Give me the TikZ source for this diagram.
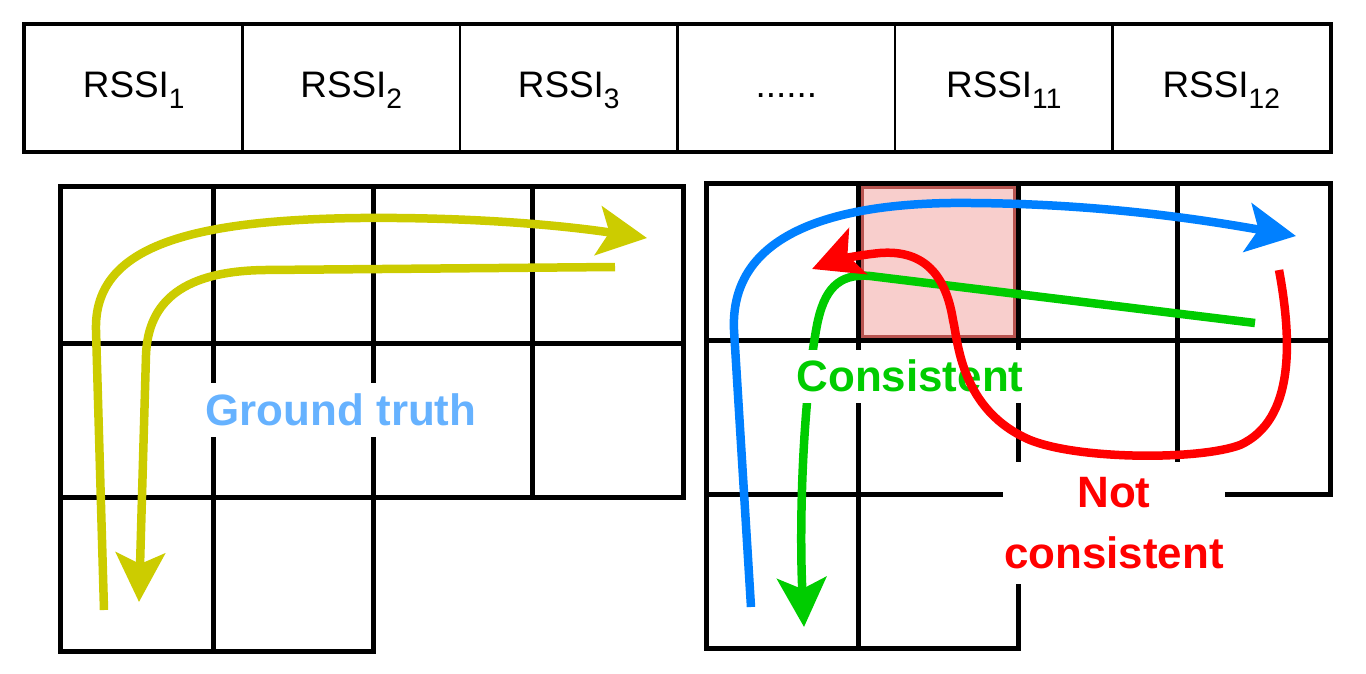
\documentclass[tikz,border=0pt]{standalone}
\usepackage{fontspec}
\setmainfont{Liberation Sans}
\usetikzlibrary{arrows.meta}

\definecolor{gtyellow}{HTML}{CCCC00}
\definecolor{gtblue}{HTML}{66B2FF}
\definecolor{trackblue}{HTML}{0080FF}
\definecolor{okgreen}{HTML}{00CC00}
\definecolor{badred}{HTML}{FF0000}
\definecolor{cellpink}{HTML}{F8CECC}
\definecolor{cellbrown}{HTML}{B85450}

\newcommand{\rssi}[1]{RSSI\raisebox{-6.5pt}{\fontsize{16}{16}\selectfont #1}}
\newcommand{\rssidots}{......}

\tikzset{
    cell/.style={draw, line width=0.045cm, minimum width=4.35cm, minimum height=2.52cm, inner sep=0pt},
    rssitext/.style={anchor=base, font=\fontsize{21}{24}\selectfont, inner sep=0pt},
    wall/.style={line width=0.1cm, line cap=rect},
    route/.style={line width=0.17cm, -{Stealth[length=0.98cm, width=0.98cm, inset=0.22cm]}},
    tag/.style={font=\fontsize{25}{35}\selectfont\bfseries, fill=white, inner sep=0pt, align=center},
}

\begin{document}
\begin{tikzpicture}[x=0.02cm, y=-0.02cm]
    \useasboundingbox (0,0) rectangle (1366,673);

    % RSSI vector
    \foreach \i in {1,...,6}
        \node[cell] (cell\i) at ({25+217.5*(\i-0.5)}, 88) {};
    \draw[line width=0.06cm] (cell1.north west) rectangle (cell6.south east);
    \foreach \i/\txt in {1/\rssi{1}, 2/\rssi{2}, 3/\rssi{3}, 4/\rssidots, 5/\rssi{11}, 6/\rssi{12}}
        \node[rssitext] (lab\i) at ({25+217.5*(\i-0.5)}, 97) {\txt};

    % Walls of the left map
    \foreach \xa/\ya/\xb/\yb in {60/186/683/186, 60/343/683/343, 60/497/683/497, 60/651/373/651,
                                 60/186/60/651, 213/186/213/651, 373/186/373/651, 532/186/532/497, 683/186/683/497}
        \draw[wall] (\xa,\ya) -- (\xb,\yb);

    % Walls of the right map
    \foreach \xa/\ya/\xb/\yb in {706/183/1330/183, 706/340/1330/340, 706/494/1330/494, 706/648/1018/648,
                                 706/183/706/648, 858/183/858/648, 1018/183/1018/648, 1177/183/1177/494, 1330/183/1330/494}
        \draw[wall] (\xa,\ya) -- (\xb,\yb);

    % Highlighted cell
    \draw[fill=cellpink, draw=cellbrown, line width=0.06cm] (862,187) rectangle (1014,336);

    % End points of the tracks
    \coordinate (gtOutS) at (104,610);
    \coordinate (gtOutE) at (647,238);
    \coordinate (gtInS) at (615,267);
    \coordinate (gtInE) at (139,602);
    \coordinate (blueS) at (751,607);
    \coordinate (blueE) at (1296,236);
    \coordinate (greenS) at (1255,323);
    \coordinate (greenE) at (804,627);
    \coordinate (redS) at (1279,270);
    \coordinate (redE) at (812,269);

    % Tracks
    \draw[route, gtyellow] (gtOutS) -- (96,330) .. controls (94,250) and (180,220) .. (360,218)
        .. controls (470,217) and (560,225) .. (gtOutE);
    \draw[route, gtyellow] (gtInS) -- (265,270) .. controls (185,271) and (148,300) .. (146,355) -- (gtInE);
    \draw[route, trackblue] (blueS) -- (734,330) .. controls (730,240) and (820,205) .. (950,203)
        .. controls (1100,202) and (1215,222) .. (blueE);
    \draw[route, okgreen] (greenS) -- (870,276) .. controls (838,273) and (824,290) .. (817,325)
        .. controls (803,400) and (799,520) .. (greenE);

    % Labels
    \node[tag, text=gtblue, minimum width=5.6cm, minimum height=1.08cm] (gt) at (341,410) {Ground truth};
    \node[tag, text=okgreen, minimum width=4.64cm, minimum height=1.06cm] (ok) at (910,376) {Consistent};
    \node[tag, text=badred, minimum width=4.44cm, minimum height=2.46cm] (bad) at (1114,523) {Not\\consistent};

    \draw[route, badred] (redS) .. controls (1292,340) and (1295,420) .. (1240,445)
        .. controls (1200,460) and (1080,460) .. (1030,440)
        .. controls (960,410) and (958,340) .. (953,320)
        .. controls (945,270) and (920,250) .. (880,253)
        .. controls (850,256) and (830,262) .. (redE);
\end{tikzpicture}
\end{document}
